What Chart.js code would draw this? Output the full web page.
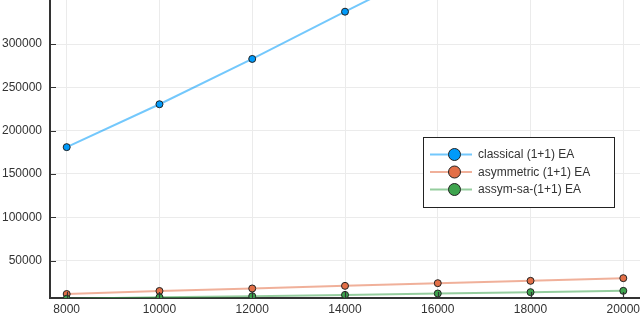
<!DOCTYPE html>
<html>
<head>
<meta charset="utf-8">
<script src="https://cdn.jsdelivr.net/npm/chart.js@4.4.0/dist/chart.umd.min.js"></script>
<style>
  html, body { margin: 0; padding: 0; background: #fff; }
  #wrap { width: 640px; height: 314px; position: relative; }
</style>
</head>
<body>
<div id="wrap"><canvas id="chart"></canvas></div>
<script>
// problem sizes and measured values
let sizes = [8000, 10000, 12000, 14000, 16000, 18000, 20000]
let classical = [181000, 230500, 282800, 337300, 391000, 445000, 499000]
let asymmetric = [11500, 15000, 17900, 20900, 24000, 26700, 29800]
let assymSa = [6000, 7800, 9000, 10500, 12100, 13650, 15150]

let xTicks = [8000, 10000, 12000, 14000, 16000, 18000, 20000]
let yTicks = [50000, 100000, 150000, 200000, 250000, 300000]
let names = ['classical (1+1) EA', 'asymmetric (1+1) EA', 'assym-sa-(1+1) EA']

let markColors = ['#009AFA', '#E36F47', '#3EA44E']
let lineColors = ['rgba(0,154,250,0.55)', 'rgba(227,111,71,0.55)', 'rgba(62,164,78,0.55)']
let font = { family: 'Liberation Sans', size: 12 }

function series(ys, i) {
    return {
        label: names[i],
        data: sizes.map((x, k) => ({ x: x, y: ys[k] })),
        borderColor: lineColors[i],
        backgroundColor: markColors[i],
        borderWidth: 2,
        pointRadius: 3.5,
        pointBorderWidth: 1,
        pointBorderColor: '#222',
        pointBackgroundColor: markColors[i],
        tension: 0,
        order: 3 - i
    }
}

// tick marks pointing into the plot
const innerTicks = {
    id: 'innerTicks',
    afterDatasetsDraw(chart) {
        let c = chart.ctx, a = chart.chartArea
        let sx = chart.scales.x, sy = chart.scales.y
        c.save()
        c.strokeStyle = '#333'
        c.lineWidth = 1.2
        c.beginPath()
        xTicks.forEach(v => {
            let px = Math.round(sx.getPixelForValue(v)) + 0.5
            c.moveTo(px, a.bottom)
            c.lineTo(px, a.bottom - 6)
        })
        yTicks.forEach(v => {
            let py = Math.round(sy.getPixelForValue(v)) + 0.5
            c.moveTo(a.left, py)
            c.lineTo(a.left + 6, py)
        })
        c.stroke()
        c.restore()
    }
}

// legend box with line + marker entries
const boxLegend = {
    id: 'boxLegend',
    afterDraw(chart) {
        let c = chart.ctx
        c.save()
        c.fillStyle = '#fff'
        c.fillRect(423.5, 137.5, 191, 70)
        c.strokeStyle = '#222'
        c.lineWidth = 1
        c.strokeRect(423.5, 137.5, 191, 70)
        let rows = [154.5, 172, 189.5]
        names.forEach((n, i) => {
            let y = rows[i]
            c.strokeStyle = lineColors[i]
            c.lineWidth = 2
            c.beginPath()
            c.moveTo(430, y)
            c.lineTo(472, y)
            c.stroke()
            c.beginPath()
            c.arc(454.5, y, 6, 0, Math.PI * 2)
            c.fillStyle = markColors[i]
            c.fill()
            c.strokeStyle = '#222'
            c.lineWidth = 1
            c.stroke()
            c.fillStyle = '#333'
            c.font = '12px "Liberation Sans"'
            c.textBaseline = 'middle'
            c.fillText(n, 478, y + 0.5)
        })
        c.restore()
    }
}

const myChart = new Chart(document.getElementById('chart'), {
    type: 'line',
    data: {
        datasets: [
            series(classical, 0),
            series(asymmetric, 1),
            series(assymSa, 2)
        ]
    },
    options: {
        responsive: true,
        maintainAspectRatio: false,
        animation: false,
        layout: { padding: 0, autoPadding: false },
        plugins: {
            legend: { display: false },
            tooltip: { enabled: false }
        },
        scales: {
            x: {
                type: 'linear',
                min: 7640,
                max: 20360,
                afterBuildTicks: s => { s.ticks = xTicks.map(v => ({ value: v })) },
                afterFit: s => { s.height = 16; s.paddingLeft = 0; s.paddingRight = 0 },
                grid: { color: '#ebebeb', lineWidth: 1, drawTicks: false },
                border: { color: '#333', width: 2 },
                ticks: {
                    padding: 4, color: '#333', font: font,
                    maxRotation: 0, autoSkip: false,
                    callback: v => String(v)
                }
            },
            y: {
                type: 'linear',
                min: 6900,
                max: 350800,
                afterBuildTicks: s => { s.ticks = yTicks.map(v => ({ value: v })) },
                afterFit: s => { s.width = 50; s.paddingTop = 0; s.paddingBottom = 0 },
                grid: { color: '#ebebeb', lineWidth: 1, drawTicks: false },
                border: { color: '#333', width: 2 },
                ticks: {
                    padding: 8, color: '#333', font: font,
                    autoSkip: false,
                    callback: v => String(v)
                }
            }
        }
    },
    plugins: [innerTicks, boxLegend]
});
</script>
</body>
</html>
